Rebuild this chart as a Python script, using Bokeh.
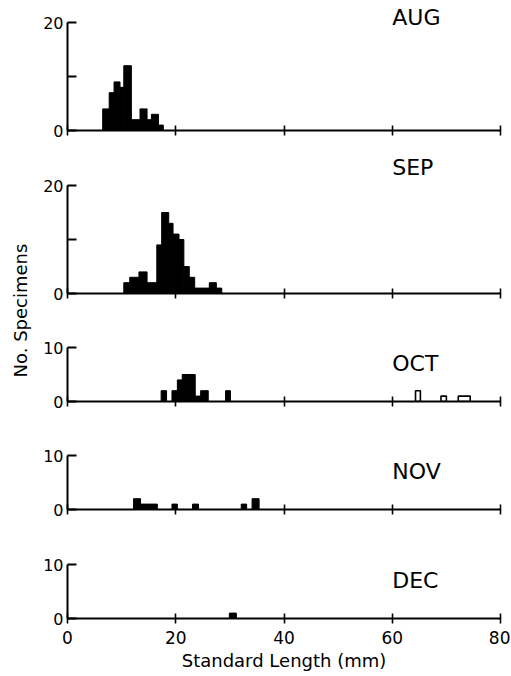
from math import pi
from bokeh.plotting import figure
from bokeh.models import Range1d, FixedTicker, Label, ColumnDataSource
from bokeh.layouts import row, column
from bokeh.embed import file_html
from bokeh.resources import INLINE

# ---------------- data ----------------
months = ["AUG", "SEP", "OCT", "NOV", "DEC"]
y_max = [20, 20, 10, 10, 10]
x_ticks = [0, 20, 40, 60, 80]

# AUG: contiguous histogram, bin edges (mm) and counts
aug_edges = [6.5, 7.7, 8.6, 9.7, 10.4, 11.8, 13.4, 14.7, 15.5, 16.8, 17.7]
aug_counts = [4, 7, 9, 8, 12, 2, 4, 2, 3, 1]

# SEP: contiguous histogram
sep_edges = [10.4, 11.5, 13.2, 14.7, 16.5, 17.4, 18.7, 19.5, 20.6, 21.5,
             22.5, 23.5, 26.2, 27.5, 28.5]
sep_counts = [2, 3, 4, 2, 9, 15, 13, 11, 10, 5, 3, 1, 2, 1]

# OCT: filled bars and open bars
oct_left = [17.3, 19.3, 20.3, 21.2, 23.6, 24.6, 29.2]
oct_right = [18.3, 20.3, 21.2, 23.6, 24.6, 26.0, 30.1]
oct_counts = [2, 2, 4, 5, 1, 2, 2]
oct_open_left = [64.3, 69.0, 72.2]
oct_open_right = [65.2, 70.0, 74.4]
oct_open_counts = [2, 1, 1]

# NOV
nov_left = [12.2, 13.5, 19.3, 23.1, 32.1, 34.1]
nov_right = [13.5, 16.6, 20.3, 24.2, 33.1, 35.4]
nov_counts = [2, 1, 1, 1, 1, 2]

# DEC
dec_left = [29.9]
dec_right = [31.2]
dec_counts = [1]

x_title = "Standard Length (mm)"
y_title = "No. Specimens"

# ---------------- layout ----------------
FONT = "DejaVu Sans"
PX_PER_COUNT = 5.4
FRAME_W = 433
LAB_W = 34
frame_heights = [130, 151, 81, 81, 82]
bottom_borders = [12, 27, 27, 27, 56]
label_y = [21.0, 23.4, 7.0, 7.0, 7.0]

filled = [
    (aug_edges[:-1], aug_edges[1:], aug_counts),
    (sep_edges[:-1], sep_edges[1:], sep_counts),
    (oct_left, oct_right, oct_counts),
    (nov_left, nov_right, nov_counts),
    (dec_left, dec_right, dec_counts),
]

panels = []
for i, name in enumerate(months):
    last = i == len(months) - 1
    fh = frame_heights[i]
    p = figure(frame_width=FRAME_W, frame_height=fh,
               x_range=Range1d(0, 80), y_range=Range1d(0, fh / PX_PER_COUNT),
               output_backend="svg", toolbar_location=None, title=None,
               min_border_left=67 - LAB_W, min_border_right=10, min_border_top=0,
               min_border_bottom=bottom_borders[i])
    p.grid.visible = False
    p.outline_line_color = None
    p.background_fill_color = "white"
    p.border_fill_color = "white"

    l, r, c = filled[i]
    src = ColumnDataSource(dict(left=l, right=r, top=c))
    p.quad(left="left", right="right", bottom=0, top="top", source=src,
           fill_color="black", line_color="black", line_width=1)
    if name == "OCT":
        src2 = ColumnDataSource(dict(left=oct_open_left, right=oct_open_right,
                                     top=oct_open_counts))
        p.quad(left="left", right="right", bottom=0, top="top", source=src2,
               fill_color="white", line_color="black", line_width=1.6)

    # x axis
    xa = p.xaxis[0]
    xa.ticker = FixedTicker(ticks=x_ticks)
    xa.bounds = (0, 80)
    xa.axis_line_color = "black"
    xa.axis_line_width = 2
    xa.major_tick_line_color = "black"
    xa.major_tick_line_width = 1.6
    xa.major_tick_in = 5
    xa.major_tick_out = 5
    xa.minor_tick_line_color = None
    if last:
        xa.major_label_text_font = FONT
        xa.major_label_text_font_size = "17px"
        xa.major_label_text_color = "black"
        xa.major_label_standoff = 7
        xa.axis_label = x_title
        xa.axis_label_text_font = FONT
        xa.axis_label_text_font_size = "18px"
        xa.axis_label_text_font_style = "normal"
        xa.axis_label_text_color = "black"
        xa.axis_label_standoff = 3
    else:
        xa.major_label_text_font_size = "6px"
        xa.major_label_text_color = None
        xa.major_label_standoff = 0

    # y axis
    ya = p.yaxis[0]
    ym = y_max[i]
    ya.ticker = FixedTicker(ticks=[0, ym], minor_ticks=[10] if ym == 20 else [])
    ya.bounds = (0, ym)
    ya.axis_line_color = "black"
    ya.axis_line_width = 2
    ya.major_tick_line_color = "black"
    ya.major_tick_line_width = 2
    ya.major_tick_in = 9
    ya.major_tick_out = 0
    ya.minor_tick_line_color = "black"
    ya.minor_tick_line_width = 2
    ya.minor_tick_in = 9
    ya.minor_tick_out = 0
    ya.major_label_text_font = FONT
    ya.major_label_text_font_size = "16px"
    ya.major_label_text_color = "black"
    ya.major_label_standoff = 4

    p.add_layout(Label(x=60, y=label_y[i], text=name, text_font=FONT,
                       text_font_size="22px", text_baseline="alphabetic",
                       text_align="left", text_color="black"))
    panels.append(p)

total_h = sum(frame_heights) + sum(bottom_borders)
lab = figure(width=LAB_W, height=total_h, x_range=Range1d(0, LAB_W),
             y_range=Range1d(0, total_h), output_backend="svg",
             toolbar_location=None, title=None, x_axis_type=None,
             y_axis_type=None, min_border=0)
lab.grid.visible = False
lab.outline_line_color = None
lab.add_layout(Label(x=20, y=total_h - 310, text=y_title, angle=pi / 2,
                     text_font=FONT, text_font_size="18px",
                     text_align="center", text_baseline="middle",
                     text_color="black"))

layout = row(lab, column(*panels, spacing=0), spacing=0)
open("out.html", "w").write(file_html(layout, INLINE))
